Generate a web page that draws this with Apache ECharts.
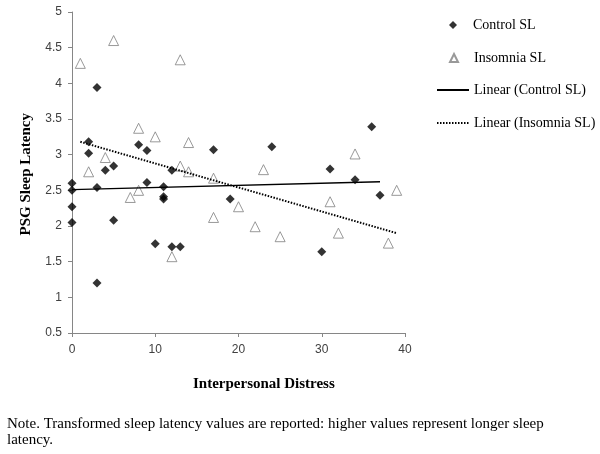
<!DOCTYPE html>
<html>
<head>
<meta charset="utf-8">
<script src="https://cdn.jsdelivr.net/npm/echarts@6/dist/echarts.min.js"></script>
<style>
  html, body { margin: 0; padding: 0; background: #fff; }
  #chart { width: 600px; height: 454px; }
</style>
</head>
<body>
<div id="chart"></div>
<script>
// control group: [interpersonal distress, sleep latency]
const controlSL = [
  [0, 2.60], [0, 2.50], [0, 2.27], [0, 2.05],
  [2, 3.18], [2, 3.02], [3, 3.94], [3, 2.54], [3, 1.20],
  [4, 2.78], [5, 2.84], [5, 2.08], [8, 3.14], [9, 3.06], [9, 2.61],
  [10, 1.75], [11, 2.55], [11, 2.41], [11, 2.38], [12, 2.78], [12, 1.71],
  [13, 1.71], [17, 3.07], [19, 2.38], [24, 3.11], [30, 1.64],
  [31, 2.80], [34, 2.65], [36, 3.39], [37, 2.43]
];
// insomnia group
const insomniaSL = [
  [1, 4.28], [2, 2.76], [4, 2.96], [5, 4.60], [7, 2.40], [8, 3.37], [8, 2.50],
  [10, 3.25], [12, 1.57], [13, 4.33], [13, 2.84], [14, 3.17], [14, 2.76],
  [17, 2.67], [17, 2.12], [20, 2.27], [22, 1.99], [23, 2.79], [25, 1.85],
  [31, 2.34], [32, 1.90], [34, 3.01], [38, 1.76], [39, 2.50]
];
// trend line end points as drawn
const controlTrend = [[0, 2.51], [37, 2.62]];
const insomniaTrend = [[1, 3.18], [39, 1.90]];

const xTicks = [0, 10, 20, 30, 40];
const yTicks = [0.5, 1, 1.5, 2, 2.5, 3, 3.5, 4, 4.5, 5];

const serif = '"Liberation Serif", "Times New Roman", serif';
const sans = '"Liberation Sans", Arial, sans-serif';
const axisColor = '#868686';

const legendNames = ['Control SL', 'Insomnia SL', 'Linear (Control SL)', 'Linear (Insomnia SL)'];
const legendY = [24, 57, 90, 123];

const chart = echarts.init(document.getElementById('chart'));
chart.setOption({
  animation: false,
  grid: { left: 72, top: 12, width: 333, height: 321 },
  xAxis: {
    type: 'value',
    min: xTicks[0], max: xTicks[xTicks.length - 1], interval: 10,
    splitLine: { show: false },
    axisLine: { lineStyle: { color: axisColor } },
    axisTick: { show: true, length: 4, lineStyle: { color: axisColor } },
    axisLabel: { margin: 11, color: '#404040', fontFamily: sans, fontSize: 12 }
  },
  yAxis: {
    type: 'value',
    min: yTicks[0], max: yTicks[yTicks.length - 1], interval: 0.5,
    splitLine: { show: false },
    axisLine: { show: true, lineStyle: { color: axisColor } },
    axisTick: { show: true, length: 4, lineStyle: { color: axisColor } },
    axisLabel: { margin: 10, color: '#404040', fontFamily: sans, fontSize: 12 }
  },
  legend: legendNames.map((name, i) => {
    const small = i < 2;
    const leg = {
      data: [name],
      left: small ? 449 : 436,
      top: legendY[i] - (small ? 6 : 7),
      itemWidth: small ? 8 : 32,
      itemHeight: small ? 8 : 14,
      itemGap: 0,
      padding: 0,
      selectedMode: false,
      textStyle: {
        fontFamily: serif, fontSize: 14, color: '#000',
        padding: small ? [0, 0, 0, 11] : 0
      }
    };
    if (!small) leg.itemStyle = { opacity: 0 };
    return leg;
  }),
  series: [
    {
      name: 'Control SL',
      type: 'scatter',
      symbol: 'diamond',
      symbolSize: 9,
      itemStyle: { color: '#000' },
      data: controlSL,
      z: 3
    },
    {
      name: 'Insomnia SL',
      type: 'scatter',
      symbol: 'triangle',
      symbolSize: 10,
      itemStyle: { color: '#fff', borderColor: '#7f7f7f', borderWidth: 1 },
      data: insomniaSL,
      z: 2
    },
    {
      name: 'Linear (Control SL)',
      type: 'line',
      symbol: 'none',
      lineStyle: { color: '#000', width: 1.3 },
      itemStyle: { color: '#000' },
      data: controlTrend,
      z: 4
    },
    {
      name: 'Linear (Insomnia SL)',
      type: 'line',
      symbol: 'none',
      lineStyle: { color: '#000', width: 2, type: [1.5, 1.5] },
      itemStyle: { color: '#000' },
      data: insomniaTrend,
      z: 4
    }
  ],
  graphic: [
    {
      type: 'text', left: 19, top: 175 - 62, rotation: Math.PI / 2,
      style: { text: 'PSG Sleep Latency', font: 'bold 15px ' + serif, fill: '#000' }
    },
    {
      type: 'text', left: 193, top: 377,
      style: { text: 'Interpersonal Distress', font: 'bold 15px ' + serif, fill: '#000' }
    },
    {
      type: 'text', left: 7, top: 416,
      style: {
        text: 'Note. Transformed sleep latency values are reported: higher values represent longer sleep\nlatency.',
        font: '15px ' + serif, fill: '#000', lineHeight: 16
      }
    }
  ]
});
</script>
</body>
</html>
